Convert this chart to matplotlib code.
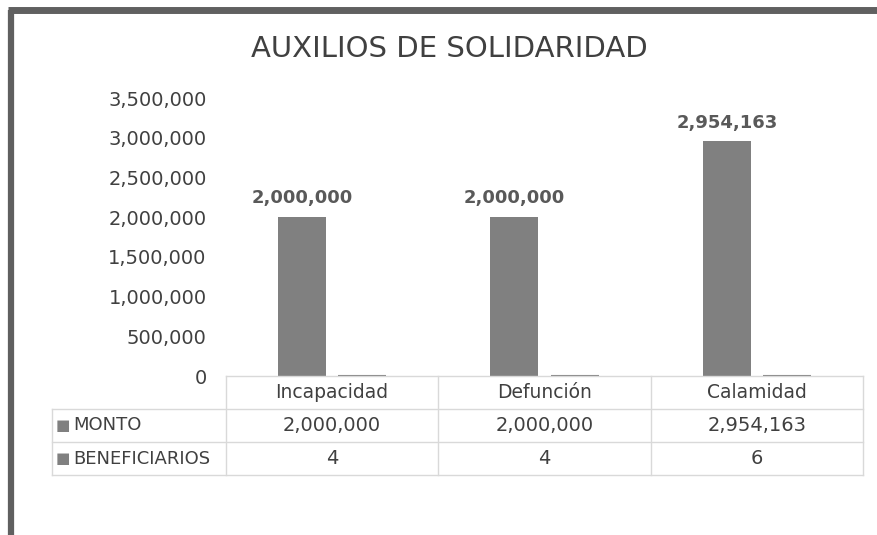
import matplotlib.pyplot as plt
from matplotlib.ticker import FuncFormatter
from matplotlib.lines import Line2D

categories = ['Incapacidad', 'Defunción', 'Calamidad']
monto = [2000000, 2000000, 2954163]
beneficiarios = [4, 4, 6]
series_names = ['MONTO', 'BENEFICIARIOS']
y_ticks = [0, 500000, 1000000, 1500000, 2000000, 2500000, 3000000, 3500000]

W, H = 878, 535
bar_color = '#808080'
text_color = '#404040'
label_color = '#595959'
grid_color = '#d9d9d9'

plt.rcParams['font.family'] = ['DejaVu Sans']

fig = plt.figure(figsize=(W / 100, H / 100), dpi=100)


def fx(px):
    return px / W


def fy(py):
    return 1 - py / H


# plot area in pixels
left, right, top, bottom = 226, 863, 98, 376
ax = fig.add_axes([fx(left), fy(bottom), fx(right - left), fy(top) - fy(bottom)])

x = list(range(len(categories)))
bw = 0.226
off = 0.1415
b1 = ax.bar([i - off for i in x], monto, width=bw, color=bar_color)
ax.bar([i + off for i in x], beneficiarios, width=bw, color=bar_color,
       edgecolor=bar_color, linewidth=1.5)

ax.bar_label(b1, labels=[f'{v:,}' for v in monto], padding=7,
             fontsize=13, fontweight='bold', color=label_color)

ax.set_xlim(-0.5, len(categories) - 0.5)
ax.set_ylim(0, 3500000)
ax.set_yticks(y_ticks)
ax.yaxis.set_major_formatter(FuncFormatter(lambda v, p: f'{int(v):,}'))
ax.tick_params(axis='y', length=0, pad=14, labelsize=14, labelcolor=text_color)
ax.set_xticks([])
for s in ax.spines.values():
    s.set_visible(False)

fig.text(fx(449), fy(49), 'AUXILIOS DE SOLIDARIDAD', ha='center', va='center',
         fontsize=21, color=text_color)

# data table below the plot
rows_y = [376, 409, 442, 475]
table_left = 52
col_edges = [left + (right - left) * k / len(categories) for k in range(len(categories) + 1)]


def hline(x0, x1, y):
    fig.add_artist(Line2D([fx(x0), fx(x1)], [fy(y), fy(y)], color=grid_color, lw=1))


def vline(xp, y0, y1):
    fig.add_artist(Line2D([fx(xp), fx(xp)], [fy(y0), fy(y1)], color=grid_color, lw=1))


hline(left, right, rows_y[0])
for y in rows_y[1:]:
    hline(table_left, right, y)
for xp in col_edges:
    vline(xp, rows_y[0], rows_y[-1])
vline(table_left, rows_y[1], rows_y[-1])

for k, cat in enumerate(categories):
    cx = (col_edges[k] + col_edges[k + 1]) / 2
    fig.text(fx(cx), fy((rows_y[0] + rows_y[1]) / 2), cat, ha='center', va='center',
             fontsize=13.5, color=text_color)
    fig.text(fx(cx), fy((rows_y[1] + rows_y[2]) / 2), f'{monto[k]:,}', ha='center',
             va='center', fontsize=14, color=text_color)
    fig.text(fx(cx), fy((rows_y[2] + rows_y[3]) / 2), f'{beneficiarios[k]:,}', ha='center',
             va='center', fontsize=14, color=text_color)

for r, name in enumerate(series_names):
    cy = (rows_y[r + 1] + rows_y[r + 2]) / 2
    fig.text(fx(56), fy(cy), '■', ha='left', va='center', fontsize=11, color=bar_color)
    fig.text(fx(73), fy(cy), name, ha='left', va='center', fontsize=13, color=text_color)

# chart frame (left and top edges)
frame = '#606060'
fig.add_artist(Line2D([fx(11), fx(11)], [fy(9.5), 0], color=frame, lw=4.5,
                      solid_capstyle='butt'))
fig.add_artist(Line2D([fx(8), 1], [fy(9.5), fy(9.5)], color=frame, lw=5,
                      solid_capstyle='butt'))

fig.savefig('out.png', dpi=100)
